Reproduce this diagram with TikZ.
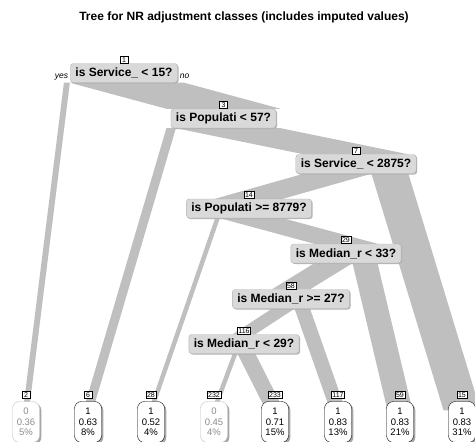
\documentclass[tikz,border=0pt]{standalone}
\usepackage{fontspec}
\setmainfont{Liberation Sans}
\usetikzlibrary{positioning,calc,backgrounds,shadows}

\tikzset{
  splitbox/.style={draw=black!30, fill=black!15, rounded corners=3pt,
    font=\fontsize{12}{14}\selectfont\bfseries, inner xsep=5pt, inner ysep=0pt,
    minimum height=19pt,
    drop shadow={shadow xshift=1pt, shadow yshift=-1pt, fill=black!30, opacity=1}},
  numbox/.style={draw=black, fill=white, font=\fontsize{7}{7}\selectfont,
    inner xsep=1pt, inner ysep=0.6pt, minimum width=8pt, minimum height=7pt},
  leafbox/.style={fill=white, rounded corners=7pt, minimum width=27pt,
    minimum height=41pt, align=center, inner sep=0pt,
    font=\fontsize{9.5}{10.5}\selectfont,
    drop shadow={shadow xshift=1.8pt, shadow yshift=-1.8pt, fill=black!35, opacity=1}},
  leafone/.style={leafbox, draw=black},
  leafzero/.style={leafbox, draw=black!25, text=black!45},
  branch/.style={fill=black!25},
  yesno/.style={font=\fontsize{8.5}{9}\selectfont\itshape, inner sep=0pt}
}

% fat branch: parent, left and right offset at parent, child point, half width at child
\newcommand{\fatbranch}[5]{%
  \fill[branch] ($(#1.south)+(#2,0)$) -- ($(#1.south)+(#3,0)$) -- ($#4+(#5,0)$) -- ($#4+(-#5,0)$) -- cycle;}

\begin{document}
\begin{tikzpicture}[x=1pt,y=-1pt]
\useasboundingbox (0,0) rectangle (475,442);
\clip (0,0) rectangle (475,442);

\node[font=\fontsize{12}{14}\selectfont\bfseries] (title) at (244,17) {Tree for NR adjustment classes (includes imputed values)};

% split nodes
\node[splitbox] (n1) at (124,73) {is Service\_ < 15?};
\node[splitbox] (n3) at (223.5,118.5) {is Populati < 57?};
\node[splitbox] (n7) at (356,164) {is Service\_ < 2875?};
\node[splitbox] (n14) at (249,208.5) {is Populati >= 8779?};
\node[splitbox] (n29) at (346,253.5) {is Median\_r < 33?};
\node[splitbox] (n58) at (291,299) {is Median\_r >= 27?};
\node[splitbox] (n116) at (244,344) {is Median\_r < 29?};

% leaves
\node[leafzero] (l2) at (26,422) {0\\0.36\\5\%};
\node[leafone] (l6) at (88,422) {1\\0.63\\8\%};
\node[leafone] (l28) at (151,422) {1\\0.52\\4\%};
\node[leafzero] (l232) at (214,422) {0\\0.45\\4\%};
\node[leafone] (l233) at (275,422) {1\\0.71\\15\%};
\node[leafone] (l117) at (338,422) {1\\0.83\\13\%};
\node[leafone] (l59) at (400,422) {1\\0.83\\21\%};
\node[leafone] (l15) at (462,422) {1\\0.83\\31\%};

% node numbers
\node[numbox, above=0pt of n1] (k1) {1};
\node[numbox, above=0pt of n3] (k3) {3};
\node[numbox, above=0pt of n7] (k7) {7};
\node[numbox, above=0pt of n14] (k14) {14};
\node[numbox, above=0pt of n29] (k29) {29};
\node[numbox, above=0pt of n58] (k58) {58};
\node[numbox, above=0pt of n116] (k116) {116};
\node[numbox, above=2.5pt of l2] (k2) {2};
\node[numbox, above=2.5pt of l6] (k6) {6};
\node[numbox, above=2.5pt of l28] (k28) {28};
\node[numbox, above=2.5pt of l232] (k232) {232};
\node[numbox, above=2.5pt of l233] (k233) {233};
\node[numbox, above=2.5pt of l117] (k117) {117};
\node[numbox, above=2.5pt of l59] (k59) {59};
\node[numbox, above=2.5pt of l15] (k15) {15};

\node[yesno, anchor=base east] (yes) at ($(n1.south west)+(-2,-4)$) {yes};
\node[yesno, anchor=base west] (no) at ($(n1.south east)+(2,-4)$) {no};

\begin{scope}[on background layer]
\fatbranch{n1}{-60.1}{-54.15}{(l2.north)+(0,9)}{2.98}
\fatbranch{n1}{-54.15}{60.1}{(n3.north)}{57.1}
\fatbranch{n3}{-57.1}{-47.6}{(l6.north)+(0,9)}{4.75}
\fatbranch{n3}{-47.6}{57.1}{(n7.north)}{52.35}
\fatbranch{n7}{-52.35}{15.45}{(n14.north)}{33.9}
\fatbranch{n7}{15.45}{52.35}{(l15.north)+(0,9)}{18.45}
\fatbranch{n14}{-33.9}{-29.14}{(l28.north)+(0,9)}{2.38}
\fatbranch{n14}{-29.14}{33.9}{(n29.north)}{31.55}
\fatbranch{n29}{-31.55}{6.55}{(n58.north)}{19.05}
\fatbranch{n29}{6.55}{31.55}{(l59.north)+(0,9)}{12.5}
\fatbranch{n58}{-19.05}{3.55}{(n116.north)}{11.3}
\fatbranch{n58}{3.55}{19.05}{(l117.north)+(0,9)}{7.75}
\fatbranch{n116}{-11.3}{-6.54}{(l232.north)+(0,9)}{2.38}
\fatbranch{n116}{-6.54}{11.3}{(l233.north)+(0,9)}{8.92}
\end{scope}
\end{tikzpicture}
\end{document}
